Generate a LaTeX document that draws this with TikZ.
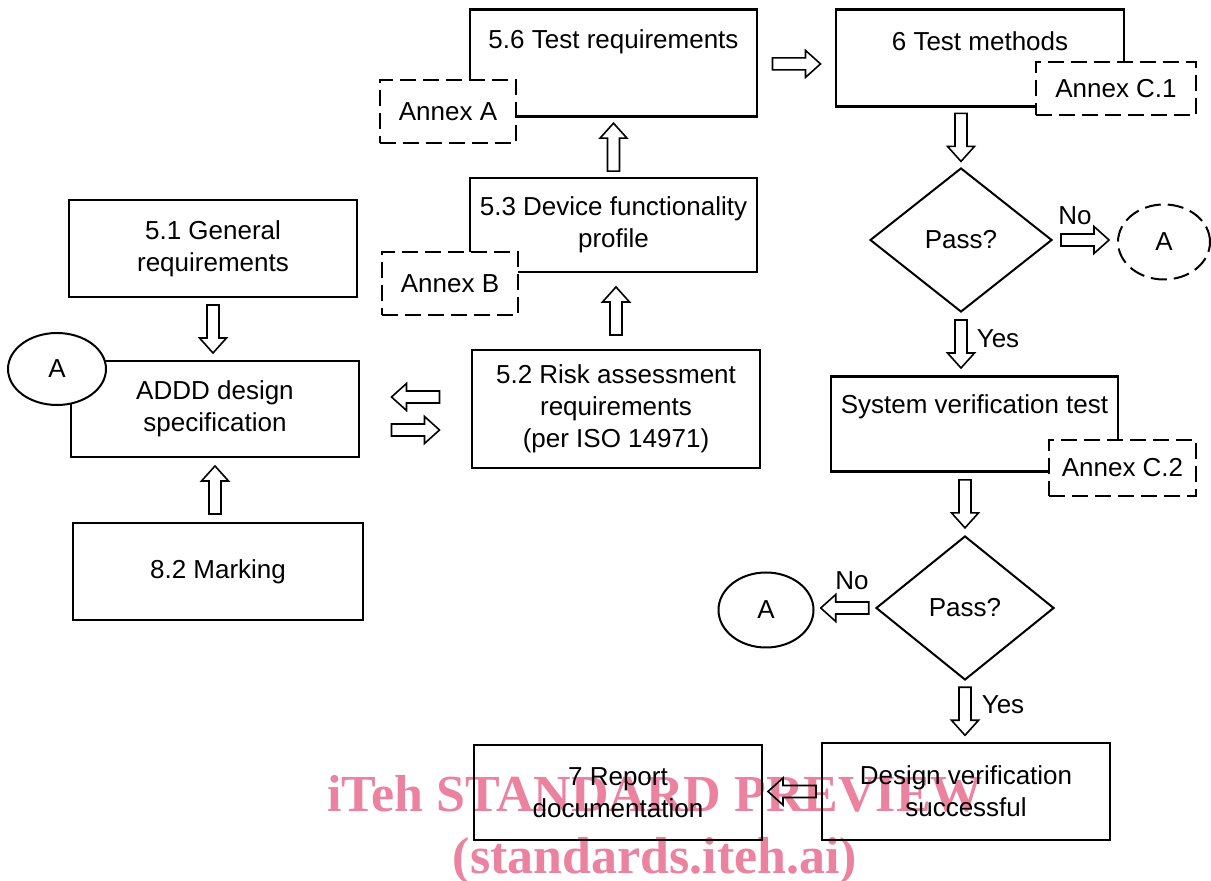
\documentclass[tikz,border=0pt]{standalone}
\usepackage{fontspec}
\setmainfont{Liberation Sans}
\newfontfamily\wmfont{Liberation Serif}
\usetikzlibrary{calc,shapes.geometric}
\definecolor{wmpink}{RGB}{234,130,160}
\tikzset{
  box/.style={draw, line width=1.4pt, align=center, inner sep=0pt, minimum width=144pt},
  annex/.style={draw, dash pattern=on 8pt off 3.5pt, line width=1pt, fill=white, inner sep=0pt},
  decision/.style={draw, diamond, line width=1pt, inner sep=0pt, minimum width=90pt, minimum height=72pt},
  conn/.style={draw, ellipse, line width=1pt, fill=white, inner sep=0pt, minimum width=47pt, minimum height=37.5pt},
  wm/.style={text=wmpink, font=\wmfont\bfseries\fontsize{26}{30}\selectfont, anchor=base, inner sep=0pt},
  blockarrow/.style={line width=0.8pt, to path={
    ($(\tikztostart)!.5!(\tikztotarget)$) coordinate (ba-m)
    ($(ba-m)!12pt!(\tikztostart)$) coordinate (ba-s)
    ($(ba-m)!12pt!(\tikztotarget)$) coordinate (ba-t)
    ($(ba-t)!7.5pt!(ba-s)$) coordinate (ba-h)
    ($(ba-s)!3pt!90:(ba-t)$) -- ($(ba-h)!3pt!90:(ba-t)$) -- ($(ba-h)!6.75pt!90:(ba-t)$)
    -- (ba-t) -- ($(ba-h)!6.75pt!-90:(ba-t)$) -- ($(ba-h)!3pt!-90:(ba-t)$)
    -- ($(ba-s)!3pt!-90:(ba-t)$) -- cycle}},
}
\begin{document}
\begin{tikzpicture}[x=0.5pt, y=-0.5pt, font=\fontsize{13}{16}\selectfont]
  \useasboundingbox (0,0) rectangle (1211,881);

  % Watermark
  \node[wm] (wm1) at (655,812) {iTeh STANDARD PREVIEW};
  \node[wm] (wm2) at (655,873) {(standards.iteh.ai)};

  % Left column
  \node[box, minimum height=48.5pt] (gen51) at (213,248.5) {5.1 General\\requirements};
  \node[box, minimum height=48pt] (addd) at (215,409) {ADDD design\\specification};
  \node[box, minimum width=145pt, minimum height=48.5pt] (mark82) at (218,571.5) {8.2 Marking};
  \node[conn, minimum width=49pt, minimum height=36pt] (ellA3) at (57,369) {A};

  % Middle column
  \node[box, minimum height=59pt] (risk52) at (616,409) {5.2 Risk assessment\\requirements\\(per ISO 14971)};
  \node[box, minimum width=143.5pt, minimum height=47pt] (dev53) at (613.5,225) {5.3 Device functionality\\profile};
  \node[box, minimum width=143.5pt, anchor=north, text height=19.5pt, text depth=34pt] (req56) at (613.5,8) {5.6 Test requirements};
  \node[annex, minimum width=68pt, minimum height=31.5pt] (annexA) at (448,111.5) {Annex A};
  \node[annex, minimum width=68pt, minimum height=31.5pt] (annexB) at (450,283.5) {Annex B};
  \node[box, minimum height=47.5pt] (rep7) at (618,792.5) {7 Report\\documentation};

  % Right column
  \node[box, anchor=north, text height=20.5pt, text depth=28pt] (meth6) at (980,8) {6 Test methods};
  \node[annex, minimum width=80pt, minimum height=26.5pt] (annexC1) at (1116,88.5) {Annex C.1};
  \node[decision, minimum width=91pt] (pass1) at (961,240) {Pass?};
  \node[conn, dash pattern=on 8pt off 3.5pt, minimum width=46pt] (ellA1) at (1164,242) {A};
  \node[box, minimum width=143.5pt, anchor=north, text height=18.5pt, text depth=29pt] (sysver) at (974.5,375) {System verification test};
  \node[annex, minimum width=73.5pt, minimum height=28pt] (annexC2) at (1122.5,468) {Annex C.2};
  \node[decision, minimum width=89pt] (pass2) at (965,608) {Pass?};
  \node[conn, minimum width=47.5pt] (ellA2) at (766,610) {A};
  \node[box, minimum height=48.5pt] (dvs) at (966,791.5) {Design verification\\successful};

  % Labels
  \node (no1) at (1075,216) {No};
  \node (yes1) at (998,339) {Yes};
  \node (no2) at (852,581) {No};
  \node (yes2) at (1003,705) {Yes};

  % Block arrows
  \draw[blockarrow] (gen51.south) to (gen51.south |- addd.north);
  \draw[blockarrow] (addd.south |- mark82.north) to (addd.south);
  \draw[blockarrow] ([yshift=6pt]risk52.west) to ([yshift=6pt]addd.east);
  \draw[blockarrow] ([yshift=-10.5pt]addd.east) to ([yshift=-10.5pt]risk52.west);
  \draw[blockarrow] (risk52.north) to (risk52.north |- dev53.south);
  \draw[blockarrow] (dev53.north) to (dev53.north |- req56.south);
  \draw[blockarrow] ([yshift=-0.5pt]req56.east) to ([yshift=-0.5pt]req56.east -| meth6.west);
  \draw[blockarrow] (pass1.north |- meth6.south) to (pass1.north);
  \draw[blockarrow] (pass1.east) to (pass1.east -| ellA1.west);
  \draw[blockarrow] (pass1.south) to (pass1.south |- sysver.north);
  \draw[blockarrow] (pass2.north |- sysver.south) to (pass2.north);
  \draw[blockarrow] (pass2.west) to (pass2.west -| ellA2.east);
  \draw[blockarrow] (pass2.south) to (pass2.south |- dvs.north);
  \draw[blockarrow] (dvs.west) to (dvs.west -| rep7.east);
\end{tikzpicture}
\end{document}
